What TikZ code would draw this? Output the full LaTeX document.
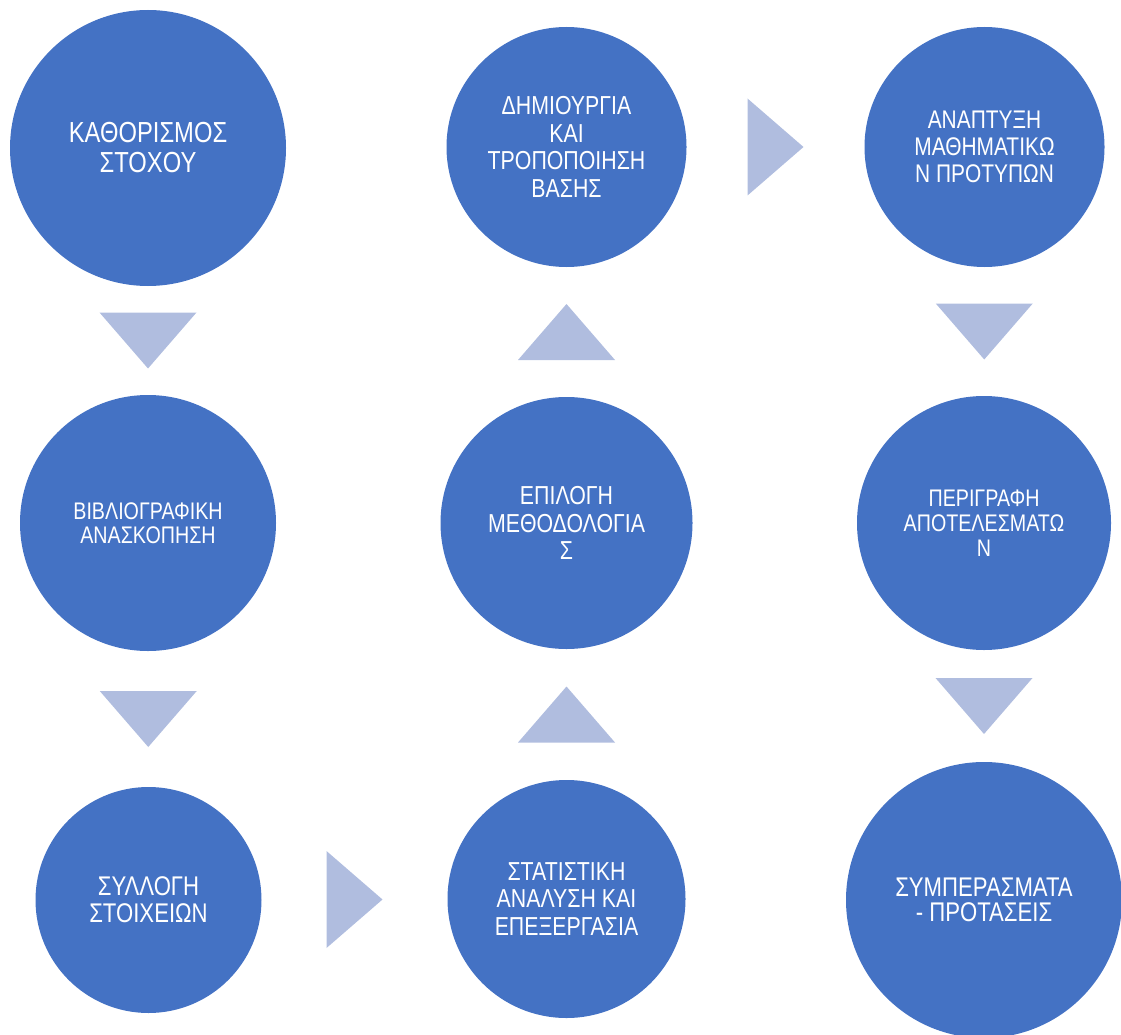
\documentclass[tikz,border=0pt]{standalone}
\usepackage{fontspec}
\setmainfont{Liberation Sans}[FakeStretch=0.82]
\usetikzlibrary{calc}
\definecolor{circblue}{HTML}{4472C4}
\definecolor{trifill}{HTML}{B0BDDF}
\tikzset{
  stage/.style={circle, fill=circblue, text=white, align=center, inner sep=0pt},
  downtri/.pic={\fill[trifill] (-48.5,-28) -- (48.5,-28) -- (0,28) -- cycle;},
  uptri/.pic={\fill[trifill] (-48.5,28) -- (48.5,28) -- (0,-28) -- cycle;},
  righttri/.pic={\fill[trifill] (-28,-48.5) -- (-28,48.5) -- (28,0) -- cycle;}
}
\begin{document}
\begin{tikzpicture}[x=1pt,y=-1pt]
\useasboundingbox (0,0) rectangle (1121,1035);
\clip (0,0) rectangle (1121,1035);
% column 1
\node[stage, minimum size=276, font=\fontsize{29}{30}\selectfont] (c1) at (148,148) {ΚΑΘΟΡΙΣΜΟΣ\\ΣΤΟΧΟΥ};
\node[stage, minimum size=256, font=\fontsize{24}{24.5}\selectfont] (c2) at (148,523) {ΒΙΒΛΙΟΓΡΑΦΙΚΗ\\ΑΝΑΣΚΟΠΗΣΗ};
\node[stage, minimum size=226, font=\fontsize{27}{27.3}\selectfont] (c3) at (148.5,900) {ΣΥΛΛΟΓΗ\\ΣΤΟΙΧΕΙΩΝ};
% column 2
\node[stage, minimum size=238, font=\fontsize{26}{27.5}\selectfont] (c4) at (566.5,899) {ΣΤΑΤΙΣΤΙΚΗ\\ΑΝΑΛΥΣΗ ΚΑΙ\\ΕΠΕΞΕΡΓΑΣΙΑ};
\node[stage, minimum size=252, font=\fontsize{26}{27.3}\selectfont] (c5) at (566.5,523) {ΕΠΙΛΟΓΗ\\ΜΕΘΟΔΟΛΟΓΙΑ\\Σ};
\node[stage, minimum size=240, font=\fontsize{26}{27.8}\selectfont] (c6) at (566.5,147) {ΔΗΜΙΟΥΡΓΙΑ\\ΚΑΙ\\ΤΡΟΠΟΠΟΙΗΣΗ\\ΒΑΣΗΣ};
% column 3
\node[stage, minimum size=240, font=\fontsize{25.5}{27}\selectfont] (c7) at (984.5,147) {ΑΝΑΠΤΥΞΗ\\ΜΑΘΗΜΑΤΙΚΩ\\Ν ΠΡΟΤΥΠΩΝ};
\node[stage, minimum size=254, font=\fontsize{24}{25}\selectfont] (c8) at (984,523) {ΠΕΡΙΓΡΑΦΗ\\ΑΠΟΤΕΛΕΣΜΑΤΩ\\Ν};
\node[stage, minimum size=276, font=\fontsize{27}{25.5}\selectfont] (c9) at (984,900) {ΣΥΜΠΕΡΑΣΜΑΤΑ\\- ΠΡΟΤΑΣΕΙΣ};
% flow triangles
\pic at ($(c1.south)!0.5!(c2.north)$) {downtri};
\pic at ($(c2.south)!0.5!(c3.north)$) {downtri};
\pic at ($(c3.east)!0.5!(c4.west)$) {righttri};
\pic at ($(c4.north)!0.5!(c5.south)$) {uptri};
\pic at ($(c5.north)!0.5!(c6.south)$) {uptri};
\pic at ($(c6.east)!0.5!(c7.west)$) {righttri};
\pic at ($(c7.south)!0.5!(c8.north)$) {downtri};
\pic at ($(c8.south)!0.5!(c9.north)$) {downtri};
\end{tikzpicture}
\end{document}
